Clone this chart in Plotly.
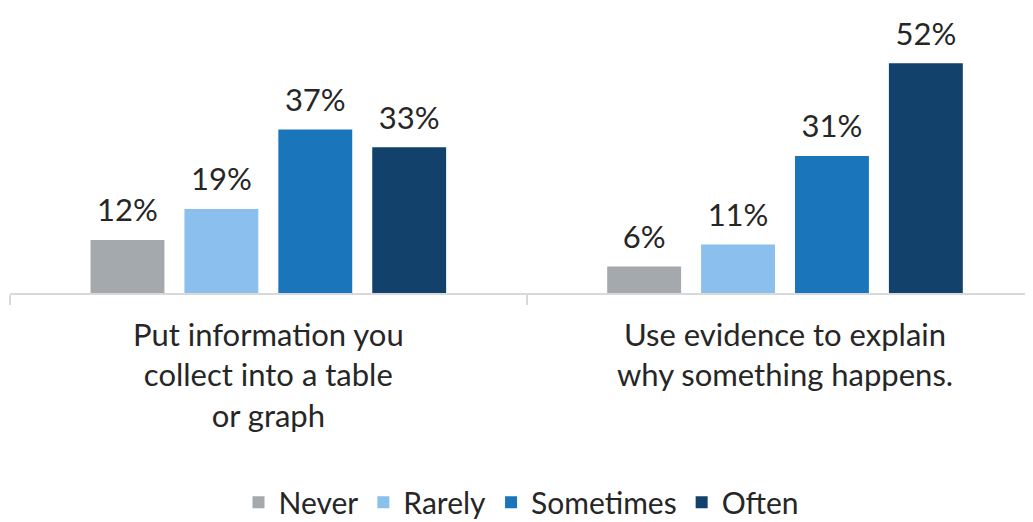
import plotly.graph_objects as go

categories = ["Put information you<br>collect into a table<br>or graph",
              "Use evidence to explain<br>why something happens."]
series_names = ["Never", "Rarely", "Sometimes", "Often"]
never = [12, 6]
rarely = [19, 11]
sometimes = [37, 31]
often = [33, 52]
colors = ["#A3A9AC", "#8BBFED", "#1B75BB", "#12416C"]

FONT = "Lato"
TXT = "#262626"

fig = go.Figure()
for name, vals, col in zip(series_names, [never, rarely, sometimes, often], colors):
    fig.add_trace(go.Bar(x=categories, y=vals, name=name, marker_color=col,
                         marker_line_width=0, hoverinfo="skip"))
for name, vals in zip(series_names, [never, rarely, sometimes, often]):
    fig.add_trace(go.Scatter(x=categories, y=vals, mode="markers+text",
                             text=[f"{v}%" for v in vals], textposition="top center",
                             marker=dict(size=16, opacity=0), showlegend=False,
                             textfont=dict(size=31, color=TXT, family=FONT),
                             cliponaxis=False, hoverinfo="skip"))

# page body has an 8px default margin, so the figure is sized to fit the window
fig.update_layout(
    width=1025, height=514,
    margin=dict(l=2, r=0, t=20, b=229, autoexpand=False),
    barmode="group", bargap=0.273, bargroupgap=0.213,
    scattermode="group", scattergap=0.273,
    plot_bgcolor="white", paper_bgcolor="white",
    font=dict(family=FONT, size=31, color=TXT),
    showlegend=True,
    legend=dict(orientation="h", x=0.5, xanchor="center", y=-0.79, yanchor="middle",
                font=dict(size=30, color=TXT, family=FONT), traceorder="normal",
                itemclick=False, itemwidth=30),
    xaxis=dict(range=[-0.5, 1.48], showline=True, linecolor="#D9D9D9", linewidth=1.5,
               ticks="outside", tickson="boundaries", ticklen=10, tickcolor="#D9D9D9",
               tickwidth=1.5, tickfont=dict(size=31, color=TXT, family=FONT),
               ticklabelstandoff=14, showgrid=False, zeroline=False, automargin=False),
    yaxis=dict(range=[0, 60], visible=False, showgrid=False, zeroline=False,
               automargin=False),
)

fig.write_html("out.html")
